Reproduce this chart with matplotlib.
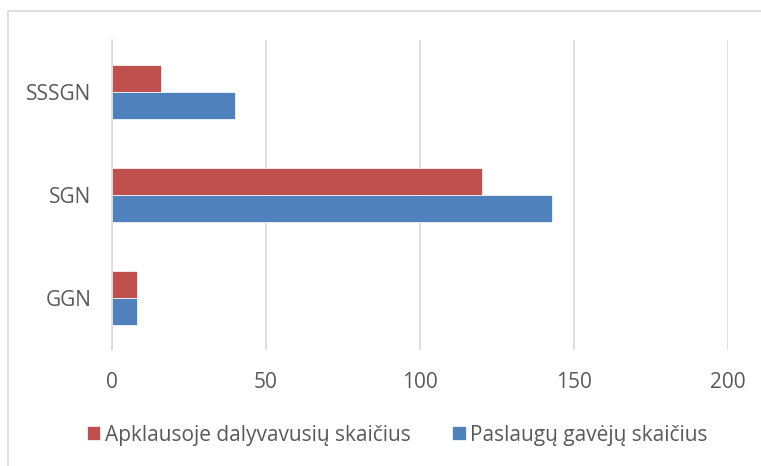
import matplotlib.pyplot as plt
import numpy as np
from matplotlib.patches import Rectangle

categories = ['GGN', 'SGN', 'SSSGN']
survey_counts = [8, 120, 16]
recipient_counts = [8, 143, 40]
series_names = ['Apklausoje dalyvavusių skaičius', 'Paslaugų gavėjų skaičius']
xticks = [0, 50, 100, 150, 200]

red = '#c0504d'
blue = '#4f81bd'
text_col = '#595959'
grid_col = '#d9d9d9'

plt.rcParams['font.family'] = ['Open Sans', 'DejaVu Sans']

W, H = 761, 466
fig = plt.figure(figsize=(W / 100, H / 100), dpi=100)
ax = fig.add_axes([112 / W, 1 - 350 / H, (728 - 112) / W, (350 - 40) / H])

y = np.arange(len(categories))
h = 0.26
ax.barh(y + h / 2, survey_counts, height=h, color=red, label=series_names[0],
        edgecolor='white', linewidth=0.5)
ax.barh(y - h / 2, recipient_counts, height=h, color=blue, label=series_names[1],
        edgecolor='white', linewidth=0.5)

ax.set_xlim(0, 200)
ax.set_ylim(-0.5, len(categories) - 0.5)
ax.set_xticks(xticks)
ax.set_yticks(y)
ax.set_yticklabels(categories)
ax.grid(axis='x', color=grid_col, linewidth=1.2)
ax.set_axisbelow(True)
for s in ['top', 'right', 'bottom']:
    ax.spines[s].set_visible(False)
ax.spines['left'].set_color(grid_col)
ax.spines['left'].set_linewidth(1.2)
ax.tick_params(length=0, labelsize=15, colors=text_col)
ax.tick_params(axis='x', pad=16)
ax.tick_params(axis='y', pad=15)

leg = fig.legend(loc='center', bbox_to_anchor=(397 / W, 1 - 435 / H), ncol=2,
                 frameon=False, fontsize=15, handlelength=0.65, handleheight=0.65,
                 handletextpad=0.2, columnspacing=2.0)
for t in leg.get_texts():
    t.set_color(text_col)

fig.patches.append(Rectangle((8 / W, -0.1), 1.2, 1 - 11 / H + 0.1,
                             transform=fig.transFigure, fill=False,
                             edgecolor='#d9d9d9', linewidth=1.2))

fig.savefig('out.png', dpi=100)
